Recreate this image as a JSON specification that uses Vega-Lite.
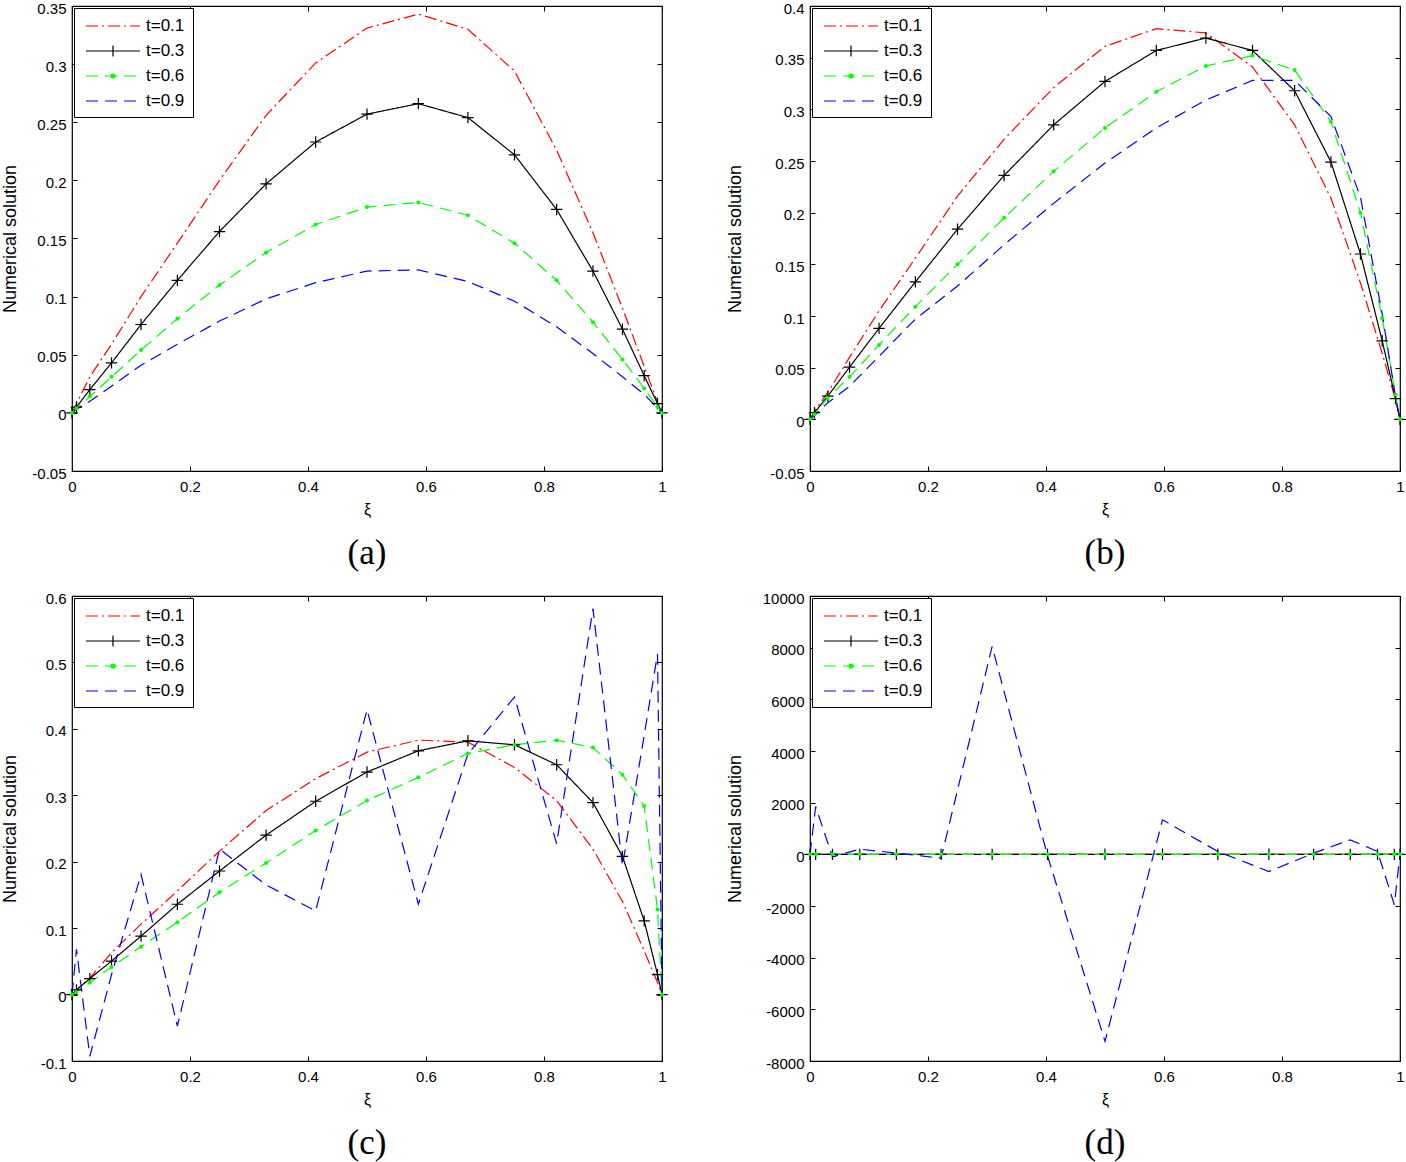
{
  "$schema": "https://vega.github.io/schema/vega-lite/v6.json",
  "padding": {"left": 0, "top": 0, "right": 0, "bottom": 0},
  "background": "white",
  "config": {
    "view": {"stroke": "black", "strokeWidth": 1.2},
    "axis": {
      "grid": false, "domain": false, "ticks": true, "tickSize": -5, "tickColor": "black", "tickWidth": 1,
      "labelFont": "Liberation Sans", "labelFontSize": 15, "labelColor": "black",
      "labelFlush": false, "labelOverlap": false,
      "labelExpr": "datum.value < 0 ? '-' + format(-datum.value, '~f') : format(datum.value, '~f')",
      "titleFont": "Liberation Sans", "titleColor": "black", "titleFontWeight": "normal"
    },
    "axisLeft": {"titleFontSize": 18, "titleBaseline": "alphabetic", "labelPadding": 11, "labelOffset": 2},
    "axisBottom": {"titleFontSize": 16, "titleY": 43, "titleBaseline": "alphabetic", "labelPadding": 13},
    "legend": {
      "orient": "top-left", "offset": 2, "padding": 8, "strokeColor": "black", "fillColor": "white",
      "labelFont": "Liberation Sans", "labelFontSize": 17, "labelColor": "black", "labelOffset": 23,
      "symbolType": "stroke", "symbolSize": 324, "symbolOffset": 21, "symbolStrokeWidth": 1.2, "rowPadding": 7,
      "titlePadding": 0
    },
    "title": {"font": "Liberation Serif", "fontSize": 35, "fontWeight": "normal", "color": "black"}
  },
  "datasets": {
    "a": [
      {"s":"t=0.1","x":0,"y":0},{"s":"t=0.1","x":0.0076,"y":0.008},{"s":"t=0.1","x":0.0302,"y":0.031},{"s":"t=0.1","x":0.067,"y":0.059},{"s":"t=0.1","x":0.117,"y":0.1},{"s":"t=0.1","x":0.1786,"y":0.146},{"s":"t=0.1","x":0.25,"y":0.2},{"s":"t=0.1","x":0.329,"y":0.256},{"s":"t=0.1","x":0.413,"y":0.301},{"s":"t=0.1","x":0.5,"y":0.331},{"s":"t=0.1","x":0.587,"y":0.343},{"s":"t=0.1","x":0.671,"y":0.33},{"s":"t=0.1","x":0.75,"y":0.294},{"s":"t=0.1","x":0.8214,"y":0.226},{"s":"t=0.1","x":0.883,"y":0.155},{"s":"t=0.1","x":0.933,"y":0.09},{"s":"t=0.1","x":0.9698,"y":0.04},{"s":"t=0.1","x":0.9924,"y":0.009},{"s":"t=0.1","x":1,"y":0},
      {"s":"t=0.3","x":0,"y":0},{"s":"t=0.3","x":0.0076,"y":0.005},{"s":"t=0.3","x":0.0302,"y":0.02},{"s":"t=0.3","x":0.067,"y":0.043},{"s":"t=0.3","x":0.117,"y":0.076},{"s":"t=0.3","x":0.1786,"y":0.114},{"s":"t=0.3","x":0.25,"y":0.156},{"s":"t=0.3","x":0.329,"y":0.197},{"s":"t=0.3","x":0.413,"y":0.233},{"s":"t=0.3","x":0.5,"y":0.257},{"s":"t=0.3","x":0.587,"y":0.266},{"s":"t=0.3","x":0.671,"y":0.254},{"s":"t=0.3","x":0.75,"y":0.222},{"s":"t=0.3","x":0.8214,"y":0.175},{"s":"t=0.3","x":0.883,"y":0.122},{"s":"t=0.3","x":0.933,"y":0.072},{"s":"t=0.3","x":0.9698,"y":0.032},{"s":"t=0.3","x":0.9924,"y":0.008},{"s":"t=0.3","x":1,"y":0},
      {"s":"t=0.6","x":0,"y":0},{"s":"t=0.6","x":0.0076,"y":0.004},{"s":"t=0.6","x":0.0302,"y":0.014},{"s":"t=0.6","x":0.067,"y":0.031},{"s":"t=0.6","x":0.117,"y":0.054},{"s":"t=0.6","x":0.1786,"y":0.081},{"s":"t=0.6","x":0.25,"y":0.11},{"s":"t=0.6","x":0.329,"y":0.138},{"s":"t=0.6","x":0.413,"y":0.162},{"s":"t=0.6","x":0.5,"y":0.177},{"s":"t=0.6","x":0.587,"y":0.181},{"s":"t=0.6","x":0.671,"y":0.17},{"s":"t=0.6","x":0.75,"y":0.146},{"s":"t=0.6","x":0.8214,"y":0.114},{"s":"t=0.6","x":0.883,"y":0.078},{"s":"t=0.6","x":0.933,"y":0.046},{"s":"t=0.6","x":0.9698,"y":0.021},{"s":"t=0.6","x":0.9924,"y":0.005},{"s":"t=0.6","x":1,"y":0},
      {"s":"t=0.9","x":0,"y":0},{"s":"t=0.9","x":0.0076,"y":0.003},{"s":"t=0.9","x":0.0302,"y":0.01},{"s":"t=0.9","x":0.067,"y":0.023},{"s":"t=0.9","x":0.117,"y":0.041},{"s":"t=0.9","x":0.1786,"y":0.059},{"s":"t=0.9","x":0.25,"y":0.079},{"s":"t=0.9","x":0.329,"y":0.098},{"s":"t=0.9","x":0.413,"y":0.112},{"s":"t=0.9","x":0.5,"y":0.122},{"s":"t=0.9","x":0.587,"y":0.123},{"s":"t=0.9","x":0.671,"y":0.113},{"s":"t=0.9","x":0.75,"y":0.096},{"s":"t=0.9","x":0.8214,"y":0.074},{"s":"t=0.9","x":0.883,"y":0.051},{"s":"t=0.9","x":0.933,"y":0.031},{"s":"t=0.9","x":0.9698,"y":0.016},{"s":"t=0.9","x":0.9924,"y":0.004},{"s":"t=0.9","x":1,"y":0}
    ],
    "b": [
      {"s":"t=0.1","x":0,"y":0},{"s":"t=0.1","x":0.0076,"y":0.008},{"s":"t=0.1","x":0.0302,"y":0.026},{"s":"t=0.1","x":0.067,"y":0.06},{"s":"t=0.1","x":0.117,"y":0.105},{"s":"t=0.1","x":0.1786,"y":0.156},{"s":"t=0.1","x":0.25,"y":0.216},{"s":"t=0.1","x":0.329,"y":0.271},{"s":"t=0.1","x":0.413,"y":0.321},{"s":"t=0.1","x":0.5,"y":0.361},{"s":"t=0.1","x":0.587,"y":0.378},{"s":"t=0.1","x":0.671,"y":0.374},{"s":"t=0.1","x":0.75,"y":0.341},{"s":"t=0.1","x":0.8214,"y":0.285},{"s":"t=0.1","x":0.883,"y":0.214},{"s":"t=0.1","x":0.933,"y":0.132},{"s":"t=0.1","x":0.9698,"y":0.064},{"s":"t=0.1","x":0.9924,"y":0.019},{"s":"t=0.1","x":1,"y":0},
      {"s":"t=0.3","x":0,"y":0},{"s":"t=0.3","x":0.0076,"y":0.0065},{"s":"t=0.3","x":0.0302,"y":0.0225},{"s":"t=0.3","x":0.067,"y":0.0505},{"s":"t=0.3","x":0.117,"y":0.088},{"s":"t=0.3","x":0.1786,"y":0.133},{"s":"t=0.3","x":0.25,"y":0.184},{"s":"t=0.3","x":0.329,"y":0.236},{"s":"t=0.3","x":0.413,"y":0.285},{"s":"t=0.3","x":0.5,"y":0.327},{"s":"t=0.3","x":0.587,"y":0.357},{"s":"t=0.3","x":0.671,"y":0.369},{"s":"t=0.3","x":0.75,"y":0.357},{"s":"t=0.3","x":0.8214,"y":0.318},{"s":"t=0.3","x":0.883,"y":0.249},{"s":"t=0.3","x":0.933,"y":0.16},{"s":"t=0.3","x":0.9698,"y":0.076},{"s":"t=0.3","x":0.9924,"y":0.02},{"s":"t=0.3","x":1,"y":0},
      {"s":"t=0.6","x":0,"y":0},{"s":"t=0.6","x":0.0076,"y":0.005},{"s":"t=0.6","x":0.0302,"y":0.021},{"s":"t=0.6","x":0.067,"y":0.041},{"s":"t=0.6","x":0.117,"y":0.072},{"s":"t=0.6","x":0.1786,"y":0.109},{"s":"t=0.6","x":0.25,"y":0.15},{"s":"t=0.6","x":0.329,"y":0.195},{"s":"t=0.6","x":0.413,"y":0.24},{"s":"t=0.6","x":0.5,"y":0.282},{"s":"t=0.6","x":0.587,"y":0.317},{"s":"t=0.6","x":0.671,"y":0.342},{"s":"t=0.6","x":0.75,"y":0.352},{"s":"t=0.6","x":0.8214,"y":0.338},{"s":"t=0.6","x":0.883,"y":0.288},{"s":"t=0.6","x":0.933,"y":0.2},{"s":"t=0.6","x":0.9698,"y":0.098},{"s":"t=0.6","x":0.9924,"y":0.024},{"s":"t=0.6","x":1,"y":0},
      {"s":"t=0.9","x":0,"y":0},{"s":"t=0.9","x":0.0076,"y":0.004},{"s":"t=0.9","x":0.0302,"y":0.016},{"s":"t=0.9","x":0.067,"y":0.032},{"s":"t=0.9","x":0.117,"y":0.061},{"s":"t=0.9","x":0.1786,"y":0.097},{"s":"t=0.9","x":0.25,"y":0.129},{"s":"t=0.9","x":0.329,"y":0.169},{"s":"t=0.9","x":0.413,"y":0.209},{"s":"t=0.9","x":0.5,"y":0.248},{"s":"t=0.9","x":0.587,"y":0.282},{"s":"t=0.9","x":0.671,"y":0.309},{"s":"t=0.9","x":0.75,"y":0.328},{"s":"t=0.9","x":0.8214,"y":0.328},{"s":"t=0.9","x":0.883,"y":0.293},{"s":"t=0.9","x":0.933,"y":0.215},{"s":"t=0.9","x":0.9698,"y":0.102},{"s":"t=0.9","x":0.9924,"y":0.022},{"s":"t=0.9","x":1,"y":0}
    ],
    "c": [
      {"s":"t=0.1","x":0,"y":0},{"s":"t=0.1","x":0.0076,"y":0.007},{"s":"t=0.1","x":0.0302,"y":0.025},{"s":"t=0.1","x":0.067,"y":0.063},{"s":"t=0.1","x":0.117,"y":0.106},{"s":"t=0.1","x":0.1786,"y":0.156},{"s":"t=0.1","x":0.25,"y":0.216},{"s":"t=0.1","x":0.329,"y":0.277},{"s":"t=0.1","x":0.413,"y":0.325},{"s":"t=0.1","x":0.5,"y":0.365},{"s":"t=0.1","x":0.587,"y":0.383},{"s":"t=0.1","x":0.671,"y":0.38},{"s":"t=0.1","x":0.75,"y":0.342},{"s":"t=0.1","x":0.8214,"y":0.292},{"s":"t=0.1","x":0.883,"y":0.219},{"s":"t=0.1","x":0.933,"y":0.14},{"s":"t=0.1","x":0.9698,"y":0.066},{"s":"t=0.1","x":0.9924,"y":0.018},{"s":"t=0.1","x":1,"y":0},
      {"s":"t=0.3","x":0,"y":0},{"s":"t=0.3","x":0.0076,"y":0.007},{"s":"t=0.3","x":0.0302,"y":0.024},{"s":"t=0.3","x":0.067,"y":0.0505},{"s":"t=0.3","x":0.117,"y":0.088},{"s":"t=0.3","x":0.1786,"y":0.136},{"s":"t=0.3","x":0.25,"y":0.186},{"s":"t=0.3","x":0.329,"y":0.24},{"s":"t=0.3","x":0.413,"y":0.291},{"s":"t=0.3","x":0.5,"y":0.335},{"s":"t=0.3","x":0.587,"y":0.367},{"s":"t=0.3","x":0.671,"y":0.382},{"s":"t=0.3","x":0.75,"y":0.376},{"s":"t=0.3","x":0.8214,"y":0.346},{"s":"t=0.3","x":0.883,"y":0.289},{"s":"t=0.3","x":0.933,"y":0.208},{"s":"t=0.3","x":0.9698,"y":0.111},{"s":"t=0.3","x":0.9924,"y":0.03},{"s":"t=0.3","x":1,"y":0},
      {"s":"t=0.6","x":0,"y":0},{"s":"t=0.6","x":0.0076,"y":0.004},{"s":"t=0.6","x":0.0302,"y":0.018},{"s":"t=0.6","x":0.067,"y":0.0415},{"s":"t=0.6","x":0.117,"y":0.072},{"s":"t=0.6","x":0.1786,"y":0.109},{"s":"t=0.6","x":0.25,"y":0.154},{"s":"t=0.6","x":0.329,"y":0.198},{"s":"t=0.6","x":0.413,"y":0.247},{"s":"t=0.6","x":0.5,"y":0.292},{"s":"t=0.6","x":0.587,"y":0.327},{"s":"t=0.6","x":0.671,"y":0.363},{"s":"t=0.6","x":0.75,"y":0.376},{"s":"t=0.6","x":0.8214,"y":0.383},{"s":"t=0.6","x":0.883,"y":0.372},{"s":"t=0.6","x":0.933,"y":0.331},{"s":"t=0.6","x":0.9698,"y":0.284},{"s":"t=0.6","x":0.9924,"y":0.128},{"s":"t=0.6","x":1,"y":0},
      {"s":"t=0.9","x":0,"y":0},{"s":"t=0.9","x":0.0076,"y":0.068},{"s":"t=0.9","x":0.0302,"y":-0.093},{"s":"t=0.9","x":0.067,"y":0.03},{"s":"t=0.9","x":0.117,"y":0.181},{"s":"t=0.9","x":0.1786,"y":-0.0475},{"s":"t=0.9","x":0.25,"y":0.219},{"s":"t=0.9","x":0.329,"y":0.165},{"s":"t=0.9","x":0.413,"y":0.126},{"s":"t=0.9","x":0.5,"y":0.429},{"s":"t=0.9","x":0.587,"y":0.136},{"s":"t=0.9","x":0.671,"y":0.362},{"s":"t=0.9","x":0.75,"y":0.448},{"s":"t=0.9","x":0.8214,"y":0.227},{"s":"t=0.9","x":0.883,"y":0.581},{"s":"t=0.9","x":0.933,"y":0.194},{"s":"t=0.9","x":0.9698,"y":0.39},{"s":"t=0.9","x":0.9924,"y":0.513},{"s":"t=0.9","x":1,"y":0}
    ],
    "d": [
      {"s":"t=0.1","x":0,"y":0},{"s":"t=0.1","x":0.0096,"y":0.01},{"s":"t=0.1","x":0.0381,"y":0.03},{"s":"t=0.1","x":0.0843,"y":0.07},{"s":"t=0.1","x":0.1464,"y":0.12},{"s":"t=0.1","x":0.2222,"y":0.19},{"s":"t=0.1","x":0.3087,"y":0.26},{"s":"t=0.1","x":0.4025,"y":0.32},{"s":"t=0.1","x":0.5,"y":0.37},{"s":"t=0.1","x":0.5975,"y":0.38},{"s":"t=0.1","x":0.6913,"y":0.36},{"s":"t=0.1","x":0.7778,"y":0.3},{"s":"t=0.1","x":0.8536,"y":0.22},{"s":"t=0.1","x":0.9157,"y":0.13},{"s":"t=0.1","x":0.9619,"y":0.06},{"s":"t=0.1","x":0.9904,"y":0.01},{"s":"t=0.1","x":1,"y":0},
      {"s":"t=0.3","x":0,"y":0},{"s":"t=0.3","x":0.0096,"y":0.008},{"s":"t=0.3","x":0.0381,"y":0.03},{"s":"t=0.3","x":0.0843,"y":0.06},{"s":"t=0.3","x":0.1464,"y":0.11},{"s":"t=0.3","x":0.2222,"y":0.17},{"s":"t=0.3","x":0.3087,"y":0.24},{"s":"t=0.3","x":0.4025,"y":0.3},{"s":"t=0.3","x":0.5,"y":0.34},{"s":"t=0.3","x":0.5975,"y":0.37},{"s":"t=0.3","x":0.6913,"y":0.38},{"s":"t=0.3","x":0.7778,"y":0.35},{"s":"t=0.3","x":0.8536,"y":0.28},{"s":"t=0.3","x":0.9157,"y":0.19},{"s":"t=0.3","x":0.9619,"y":0.09},{"s":"t=0.3","x":0.9904,"y":0.02},{"s":"t=0.3","x":1,"y":0},
      {"s":"t=0.6","x":0,"y":0},{"s":"t=0.6","x":0.0096,"y":0.006},{"s":"t=0.6","x":0.0381,"y":0.02},{"s":"t=0.6","x":0.0843,"y":0.05},{"s":"t=0.6","x":0.1464,"y":0.09},{"s":"t=0.6","x":0.2222,"y":0.14},{"s":"t=0.6","x":0.3087,"y":0.2},{"s":"t=0.6","x":0.4025,"y":0.26},{"s":"t=0.6","x":0.5,"y":0.3},{"s":"t=0.6","x":0.5975,"y":0.34},{"s":"t=0.6","x":0.6913,"y":0.37},{"s":"t=0.6","x":0.7778,"y":0.38},{"s":"t=0.6","x":0.8536,"y":0.37},{"s":"t=0.6","x":0.9157,"y":0.32},{"s":"t=0.6","x":0.9619,"y":0.22},{"s":"t=0.6","x":0.9904,"y":0.08},{"s":"t=0.6","x":1,"y":0},
      {"s":"t=0.9","x":0,"y":0},{"s":"t=0.9","x":0.0096,"y":1850},{"s":"t=0.9","x":0.0381,"y":-100},{"s":"t=0.9","x":0.0843,"y":200},{"s":"t=0.9","x":0.1464,"y":50},{"s":"t=0.9","x":0.2222,"y":-150},{"s":"t=0.9","x":0.3087,"y":8050},{"s":"t=0.9","x":0.4025,"y":-50},{"s":"t=0.9","x":0.5,"y":-7240},{"s":"t=0.9","x":0.5975,"y":1335},{"s":"t=0.9","x":0.6913,"y":110},{"s":"t=0.9","x":0.7778,"y":-665},{"s":"t=0.9","x":0.8536,"y":46},{"s":"t=0.9","x":0.9157,"y":560},{"s":"t=0.9","x":0.9619,"y":110},{"s":"t=0.9","x":0.9904,"y":-1950},{"s":"t=0.9","x":1,"y":0}
    ]
  },
  "columns": 2,
  "bounds": "flush",
  "spacing": {"row": 125, "column": 148},
  "resolve": {"scale": {"x": "independent", "y": "independent"}, "legend": {"color": "independent", "strokeDash": "independent"}},
  "concat": [
    {
      "width": 590, "height": 465,
      "data": {"name": "a"},
      "title": {"text": "(a)", "orient": "bottom", "offset": 19},
      "resolve": {"axis": {"x": "independent", "y": "independent"}},
      "layer": [
        {
          "mark": {"type": "line", "strokeWidth": 1.2},
          "encoding": {
            "x": {"field": "x", "type": "quantitative", "scale": {"domain": [0, 1], "nice": false, "zero": false}, "axis": {"values": [0, 0.2, 0.4, 0.6, 0.8, 1], "title": "ξ"}},
            "y": {"field": "y", "type": "quantitative", "scale": {"domain": [-0.05, 0.35], "nice": false, "zero": false}, "axis": {"values": [-0.05, 0, 0.05, 0.1, 0.15, 0.2, 0.25, 0.3, 0.35], "title": "Numerical solution", "titleX": -57}},
            "color": {"field": "s", "type": "nominal", "scale": {"domain": ["t=0.1", "t=0.3", "t=0.6", "t=0.9"], "range": ["#ff0000", "#000000", "#00ff00", "#0000ff"]}, "legend": {"title": null, "encode": {"symbols": {"update": {"shape": {"signal": "datum.value === 't=0.3' ? 'M-3,0H3M0,-0.6V0.6' : datum.value === 't=0.6' ? 'M-3,0H3M-0.22,0A0.22,0.22,0,1,0,0.22,0A0.22,0.22,0,1,0,-0.22,0' : 'M-3,0H3'"}, "fill": {"signal": "datum.value === 't=0.6' ? '#00ff00' : 'transparent'"}}}}}},
            "strokeDash": {"field": "s", "type": "nominal", "scale": {"domain": ["t=0.1", "t=0.3", "t=0.6", "t=0.9"], "range": [[12, 4, 2, 4], [1, 0], [12, 7], [12, 7]]}, "legend": {"title": null}}
          }
        },
        {
          "transform": [{"filter": "datum.s === 't=0.3'"}],
          "mark": {"type": "point", "shape": "M-1,0H1M0,-1V1", "size": 130, "filled": false, "color": "black", "strokeWidth": 1.2, "opacity": 1},
          "encoding": {
            "x": {"field": "x", "type": "quantitative", "scale": {"domain": [0, 1], "nice": false, "zero": false}, "axis": null},
            "y": {"field": "y", "type": "quantitative", "scale": {"domain": [-0.05, 0.35], "nice": false, "zero": false}, "axis": null}
          }
        },
        {
          "transform": [{"filter": "datum.s === 't=0.6'"}],
          "mark": {"type": "point", "shape": "circle", "size": 16, "filled": true, "color": "#00ff00", "opacity": 1},
          "encoding": {
            "x": {"field": "x", "type": "quantitative", "scale": {"domain": [0, 1], "nice": false, "zero": false}, "axis": null},
            "y": {"field": "y", "type": "quantitative", "scale": {"domain": [-0.05, 0.35], "nice": false, "zero": false}, "axis": null}
          }
        },
        {
          "mark": {"type": "point", "opacity": 0},
          "encoding": {
            "x": {"field": "x", "type": "quantitative", "scale": {"domain": [0, 1], "nice": false, "zero": false}, "axis": {"orient": "top", "labels": false, "title": null, "values": [0, 0.2, 0.4, 0.6, 0.8, 1]}},
            "y": {"field": "y", "type": "quantitative", "scale": {"domain": [-0.05, 0.35], "nice": false, "zero": false}, "axis": {"orient": "right", "labels": false, "title": null, "values": [-0.05, 0, 0.05, 0.1, 0.15, 0.2, 0.25, 0.3, 0.35]}}
          }
        }
      ]
    },
    {
      "width": 590, "height": 465,
      "data": {"name": "b"},
      "title": {"text": "(b)", "orient": "bottom", "offset": 19},
      "resolve": {"axis": {"x": "independent", "y": "independent"}},
      "layer": [
        {
          "mark": {"type": "line", "strokeWidth": 1.2},
          "encoding": {
            "x": {"field": "x", "type": "quantitative", "scale": {"domain": [0, 1], "nice": false, "zero": false}, "axis": {"values": [0, 0.2, 0.4, 0.6, 0.8, 1], "title": "ξ"}},
            "y": {"field": "y", "type": "quantitative", "scale": {"domain": [-0.05, 0.4], "nice": false, "zero": false}, "axis": {"values": [-0.05, 0, 0.05, 0.1, 0.15, 0.2, 0.25, 0.3, 0.35, 0.4], "title": "Numerical solution", "titleX": -70}},
            "color": {"field": "s", "type": "nominal", "scale": {"domain": ["t=0.1", "t=0.3", "t=0.6", "t=0.9"], "range": ["#ff0000", "#000000", "#00ff00", "#0000ff"]}, "legend": {"title": null, "encode": {"symbols": {"update": {"shape": {"signal": "datum.value === 't=0.3' ? 'M-3,0H3M0,-0.6V0.6' : datum.value === 't=0.6' ? 'M-3,0H3M-0.22,0A0.22,0.22,0,1,0,0.22,0A0.22,0.22,0,1,0,-0.22,0' : 'M-3,0H3'"}, "fill": {"signal": "datum.value === 't=0.6' ? '#00ff00' : 'transparent'"}}}}}},
            "strokeDash": {"field": "s", "type": "nominal", "scale": {"domain": ["t=0.1", "t=0.3", "t=0.6", "t=0.9"], "range": [[12, 4, 2, 4], [1, 0], [12, 7], [12, 7]]}, "legend": {"title": null}}
          }
        },
        {
          "transform": [{"filter": "datum.s === 't=0.3'"}],
          "mark": {"type": "point", "shape": "M-1,0H1M0,-1V1", "size": 130, "filled": false, "color": "black", "strokeWidth": 1.2, "opacity": 1},
          "encoding": {
            "x": {"field": "x", "type": "quantitative", "scale": {"domain": [0, 1], "nice": false, "zero": false}, "axis": null},
            "y": {"field": "y", "type": "quantitative", "scale": {"domain": [-0.05, 0.4], "nice": false, "zero": false}, "axis": null}
          }
        },
        {
          "transform": [{"filter": "datum.s === 't=0.6'"}],
          "mark": {"type": "point", "shape": "circle", "size": 16, "filled": true, "color": "#00ff00", "opacity": 1},
          "encoding": {
            "x": {"field": "x", "type": "quantitative", "scale": {"domain": [0, 1], "nice": false, "zero": false}, "axis": null},
            "y": {"field": "y", "type": "quantitative", "scale": {"domain": [-0.05, 0.4], "nice": false, "zero": false}, "axis": null}
          }
        },
        {
          "mark": {"type": "point", "opacity": 0},
          "encoding": {
            "x": {"field": "x", "type": "quantitative", "scale": {"domain": [0, 1], "nice": false, "zero": false}, "axis": {"orient": "top", "labels": false, "title": null, "values": [0, 0.2, 0.4, 0.6, 0.8, 1]}},
            "y": {"field": "y", "type": "quantitative", "scale": {"domain": [-0.05, 0.4], "nice": false, "zero": false}, "axis": {"orient": "right", "labels": false, "title": null, "values": [-0.05, 0, 0.05, 0.1, 0.15, 0.2, 0.25, 0.3, 0.35, 0.4]}}
          }
        }
      ]
    },
    {
      "width": 590, "height": 465,
      "data": {"name": "c"},
      "title": {"text": "(c)", "orient": "bottom", "offset": 19},
      "resolve": {"axis": {"x": "independent", "y": "independent"}},
      "layer": [
        {
          "mark": {"type": "line", "strokeWidth": 1.2},
          "encoding": {
            "x": {"field": "x", "type": "quantitative", "scale": {"domain": [0, 1], "nice": false, "zero": false}, "axis": {"values": [0, 0.2, 0.4, 0.6, 0.8, 1], "title": "ξ"}},
            "y": {"field": "y", "type": "quantitative", "scale": {"domain": [-0.1, 0.6], "nice": false, "zero": false}, "axis": {"values": [-0.1, 0, 0.1, 0.2, 0.3, 0.4, 0.5, 0.6], "title": "Numerical solution", "titleX": -57}},
            "color": {"field": "s", "type": "nominal", "scale": {"domain": ["t=0.1", "t=0.3", "t=0.6", "t=0.9"], "range": ["#ff0000", "#000000", "#00ff00", "#0000ff"]}, "legend": {"title": null, "encode": {"symbols": {"update": {"shape": {"signal": "datum.value === 't=0.3' ? 'M-3,0H3M0,-0.6V0.6' : datum.value === 't=0.6' ? 'M-3,0H3M-0.22,0A0.22,0.22,0,1,0,0.22,0A0.22,0.22,0,1,0,-0.22,0' : 'M-3,0H3'"}, "fill": {"signal": "datum.value === 't=0.6' ? '#00ff00' : 'transparent'"}}}}}},
            "strokeDash": {"field": "s", "type": "nominal", "scale": {"domain": ["t=0.1", "t=0.3", "t=0.6", "t=0.9"], "range": [[12, 4, 2, 4], [1, 0], [12, 7], [12, 7]]}, "legend": {"title": null}}
          }
        },
        {
          "transform": [{"filter": "datum.s === 't=0.3'"}],
          "mark": {"type": "point", "shape": "M-1,0H1M0,-1V1", "size": 130, "filled": false, "color": "black", "strokeWidth": 1.2, "opacity": 1},
          "encoding": {
            "x": {"field": "x", "type": "quantitative", "scale": {"domain": [0, 1], "nice": false, "zero": false}, "axis": null},
            "y": {"field": "y", "type": "quantitative", "scale": {"domain": [-0.1, 0.6], "nice": false, "zero": false}, "axis": null}
          }
        },
        {
          "transform": [{"filter": "datum.s === 't=0.6'"}],
          "mark": {"type": "point", "shape": "circle", "size": 16, "filled": true, "color": "#00ff00", "opacity": 1},
          "encoding": {
            "x": {"field": "x", "type": "quantitative", "scale": {"domain": [0, 1], "nice": false, "zero": false}, "axis": null},
            "y": {"field": "y", "type": "quantitative", "scale": {"domain": [-0.1, 0.6], "nice": false, "zero": false}, "axis": null}
          }
        },
        {
          "mark": {"type": "point", "opacity": 0},
          "encoding": {
            "x": {"field": "x", "type": "quantitative", "scale": {"domain": [0, 1], "nice": false, "zero": false}, "axis": {"orient": "top", "labels": false, "title": null, "values": [0, 0.2, 0.4, 0.6, 0.8, 1]}},
            "y": {"field": "y", "type": "quantitative", "scale": {"domain": [-0.1, 0.6], "nice": false, "zero": false}, "axis": {"orient": "right", "labels": false, "title": null, "values": [-0.1, 0, 0.1, 0.2, 0.3, 0.4, 0.5, 0.6]}}
          }
        }
      ]
    },
    {
      "width": 590, "height": 465,
      "data": {"name": "d"},
      "title": {"text": "(d)", "orient": "bottom", "offset": 19},
      "resolve": {"axis": {"x": "independent", "y": "independent"}},
      "layer": [
        {
          "mark": {"type": "line", "strokeWidth": 1.2},
          "encoding": {
            "x": {"field": "x", "type": "quantitative", "scale": {"domain": [0, 1], "nice": false, "zero": false}, "axis": {"values": [0, 0.2, 0.4, 0.6, 0.8, 1], "title": "ξ"}},
            "y": {"field": "y", "type": "quantitative", "scale": {"domain": [-8000, 10000], "nice": false, "zero": false}, "axis": {"values": [-8000, -6000, -4000, -2000, 0, 2000, 4000, 6000, 8000, 10000], "title": "Numerical solution", "titleX": -70}},
            "color": {"field": "s", "type": "nominal", "scale": {"domain": ["t=0.1", "t=0.3", "t=0.6", "t=0.9"], "range": ["#ff0000", "#000000", "#00ff00", "#0000ff"]}, "legend": {"title": null, "encode": {"symbols": {"update": {"shape": {"signal": "datum.value === 't=0.3' ? 'M-3,0H3M0,-0.6V0.6' : datum.value === 't=0.6' ? 'M-3,0H3M-0.22,0A0.22,0.22,0,1,0,0.22,0A0.22,0.22,0,1,0,-0.22,0' : 'M-3,0H3'"}, "fill": {"signal": "datum.value === 't=0.6' ? '#00ff00' : 'transparent'"}}}}}},
            "strokeDash": {"field": "s", "type": "nominal", "scale": {"domain": ["t=0.1", "t=0.3", "t=0.6", "t=0.9"], "range": [[12, 4, 2, 4], [1, 0], [12, 7], [12, 7]]}, "legend": {"title": null}}
          }
        },
        {
          "transform": [{"filter": "datum.s === 't=0.3'"}],
          "mark": {"type": "point", "shape": "M-1,0H1M0,-1V1", "size": 130, "filled": false, "color": "black", "strokeWidth": 1.2, "opacity": 1},
          "encoding": {
            "x": {"field": "x", "type": "quantitative", "scale": {"domain": [0, 1], "nice": false, "zero": false}, "axis": null},
            "y": {"field": "y", "type": "quantitative", "scale": {"domain": [-8000, 10000], "nice": false, "zero": false}, "axis": null}
          }
        },
        {
          "transform": [{"filter": "datum.s === 't=0.6'"}],
          "mark": {"type": "point", "shape": "circle", "size": 16, "filled": true, "color": "#00ff00", "opacity": 1},
          "encoding": {
            "x": {"field": "x", "type": "quantitative", "scale": {"domain": [0, 1], "nice": false, "zero": false}, "axis": null},
            "y": {"field": "y", "type": "quantitative", "scale": {"domain": [-8000, 10000], "nice": false, "zero": false}, "axis": null}
          }
        },
        {
          "mark": {"type": "point", "opacity": 0},
          "encoding": {
            "x": {"field": "x", "type": "quantitative", "scale": {"domain": [0, 1], "nice": false, "zero": false}, "axis": {"orient": "top", "labels": false, "title": null, "values": [0, 0.2, 0.4, 0.6, 0.8, 1]}},
            "y": {"field": "y", "type": "quantitative", "scale": {"domain": [-8000, 10000], "nice": false, "zero": false}, "axis": {"orient": "right", "labels": false, "title": null, "values": [-8000, -6000, -4000, -2000, 0, 2000, 4000, 6000, 8000, 10000]}}
          }
        }
      ]
    }
  ]
}
